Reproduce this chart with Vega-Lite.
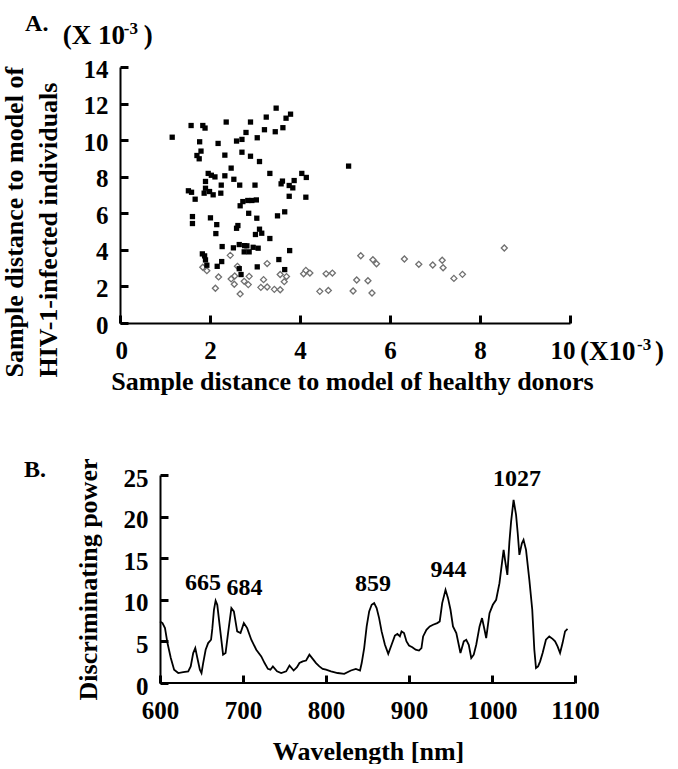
{
  "$schema": "https://vega.github.io/schema/vega-lite/v6.json",
  "autosize": {"type": "pad"},
  "padding": {"left": 0, "top": 12, "right": 0, "bottom": 0},
  "background": "white",
  "bounds": "flush",
  "spacing": 152,
  "config": {
    "font": "Liberation Serif",
    "view": {"stroke": null},
    "axis": {
      "labelFont": "Liberation Serif", "labelFontSize": 25, "labelFontWeight": "bold", "labelColor": "black",
      "titleFont": "Liberation Serif", "titleFontSize": 26, "titleFontWeight": "bold", "titleColor": "black",
      "domainColor": "black", "domainWidth": 2,
      "grid": false, "labelOverlap": false, "labelFlush": false
    },
    "text": {"font": "Liberation Serif", "fontWeight": "bold", "color": "black"}
  },
  "datasets": {
    "scatter": [
      {"group": "healthy", "x": 1.84, "y": 3.05}, {"group": "healthy", "x": 1.93, "y": 2.86}, {"group": "healthy", "x": 2.45, "y": 3.70},
      {"group": "healthy", "x": 2.61, "y": 3.10}, {"group": "healthy", "x": 3.27, "y": 3.25}, {"group": "healthy", "x": 2.19, "y": 2.52},
      {"group": "healthy", "x": 2.47, "y": 2.41}, {"group": "healthy", "x": 2.55, "y": 2.57}, {"group": "healthy", "x": 2.87, "y": 2.55},
      {"group": "healthy", "x": 2.76, "y": 2.28}, {"group": "healthy", "x": 2.85, "y": 2.10}, {"group": "healthy", "x": 2.54, "y": 2.12},
      {"group": "healthy", "x": 2.12, "y": 1.90}, {"group": "healthy", "x": 2.67, "y": 1.59}, {"group": "healthy", "x": 3.19, "y": 2.37},
      {"group": "healthy", "x": 3.56, "y": 2.65}, {"group": "healthy", "x": 3.70, "y": 2.54}, {"group": "healthy", "x": 3.65, "y": 2.26},
      {"group": "healthy", "x": 3.13, "y": 1.95}, {"group": "healthy", "x": 3.27, "y": 1.97}, {"group": "healthy", "x": 3.43, "y": 1.84},
      {"group": "healthy", "x": 3.56, "y": 1.82}, {"group": "healthy", "x": 4.08, "y": 2.69}, {"group": "healthy", "x": 4.13, "y": 2.88},
      {"group": "healthy", "x": 4.22, "y": 2.73}, {"group": "healthy", "x": 4.44, "y": 1.73}, {"group": "healthy", "x": 4.58, "y": 2.69},
      {"group": "healthy", "x": 4.72, "y": 2.73}, {"group": "healthy", "x": 4.63, "y": 1.78}, {"group": "healthy", "x": 5.35, "y": 3.68},
      {"group": "healthy", "x": 5.26, "y": 2.35}, {"group": "healthy", "x": 5.18, "y": 1.75}, {"group": "healthy", "x": 5.62, "y": 3.46},
      {"group": "healthy", "x": 5.70, "y": 3.24}, {"group": "healthy", "x": 5.51, "y": 2.31}, {"group": "healthy", "x": 5.60, "y": 1.64},
      {"group": "healthy", "x": 6.32, "y": 3.50}, {"group": "healthy", "x": 6.64, "y": 3.21}, {"group": "healthy", "x": 6.95, "y": 3.17},
      {"group": "healthy", "x": 7.16, "y": 3.43}, {"group": "healthy", "x": 7.18, "y": 3.02}, {"group": "healthy", "x": 7.42, "y": 2.44},
      {"group": "healthy", "x": 7.61, "y": 2.66}, {"group": "healthy", "x": 8.54, "y": 4.10},
      {"group": "HIV", "x": 1.16, "y": 10.16}, {"group": "HIV", "x": 1.58, "y": 10.80}, {"group": "HIV", "x": 1.84, "y": 10.80},
      {"group": "HIV", "x": 1.89, "y": 10.66}, {"group": "HIV", "x": 2.36, "y": 10.99}, {"group": "HIV", "x": 2.90, "y": 10.99},
      {"group": "HIV", "x": 3.25, "y": 11.26}, {"group": "HIV", "x": 3.47, "y": 11.75}, {"group": "HIV", "x": 3.69, "y": 11.20},
      {"group": "HIV", "x": 3.79, "y": 11.42}, {"group": "HIV", "x": 3.21, "y": 10.57}, {"group": "HIV", "x": 3.45, "y": 10.46},
      {"group": "HIV", "x": 3.62, "y": 10.68}, {"group": "HIV", "x": 2.80, "y": 10.42}, {"group": "HIV", "x": 3.05, "y": 10.13},
      {"group": "HIV", "x": 2.71, "y": 10.04}, {"group": "HIV", "x": 2.59, "y": 9.95}, {"group": "HIV", "x": 2.18, "y": 9.82},
      {"group": "HIV", "x": 1.77, "y": 9.91}, {"group": "HIV", "x": 1.80, "y": 9.40}, {"group": "HIV", "x": 1.71, "y": 9.16},
      {"group": "HIV", "x": 1.76, "y": 8.98}, {"group": "HIV", "x": 2.33, "y": 9.18}, {"group": "HIV", "x": 2.71, "y": 9.34},
      {"group": "HIV", "x": 2.90, "y": 9.12}, {"group": "HIV", "x": 3.10, "y": 8.83}, {"group": "HIV", "x": 5.08, "y": 8.58},
      {"group": "HIV", "x": 2.47, "y": 8.47}, {"group": "HIV", "x": 1.96, "y": 8.18}, {"group": "HIV", "x": 2.03, "y": 8.08},
      {"group": "HIV", "x": 2.11, "y": 7.99}, {"group": "HIV", "x": 2.33, "y": 8.05}, {"group": "HIV", "x": 3.33, "y": 8.18},
      {"group": "HIV", "x": 2.53, "y": 7.86}, {"group": "HIV", "x": 4.04, "y": 8.18}, {"group": "HIV", "x": 4.14, "y": 7.96},
      {"group": "HIV", "x": 3.87, "y": 7.79}, {"group": "HIV", "x": 3.61, "y": 7.76}, {"group": "HIV", "x": 3.58, "y": 7.61},
      {"group": "HIV", "x": 1.90, "y": 7.74}, {"group": "HIV", "x": 2.25, "y": 7.54}, {"group": "HIV", "x": 2.66, "y": 7.54},
      {"group": "HIV", "x": 3.00, "y": 7.54}, {"group": "HIV", "x": 3.76, "y": 7.52}, {"group": "HIV", "x": 3.84, "y": 7.39},
      {"group": "HIV", "x": 1.52, "y": 7.23}, {"group": "HIV", "x": 1.59, "y": 7.15}, {"group": "HIV", "x": 1.90, "y": 7.37},
      {"group": "HIV", "x": 1.87, "y": 7.10}, {"group": "HIV", "x": 1.99, "y": 7.19}, {"group": "HIV", "x": 2.07, "y": 7.01},
      {"group": "HIV", "x": 2.24, "y": 7.10}, {"group": "HIV", "x": 1.67, "y": 6.77}, {"group": "HIV", "x": 3.76, "y": 6.93},
      {"group": "HIV", "x": 4.13, "y": 6.88}, {"group": "HIV", "x": 2.73, "y": 6.64}, {"group": "HIV", "x": 2.84, "y": 6.70},
      {"group": "HIV", "x": 2.93, "y": 6.70}, {"group": "HIV", "x": 3.03, "y": 6.73}, {"group": "HIV", "x": 2.67, "y": 6.41},
      {"group": "HIV", "x": 1.61, "y": 5.82}, {"group": "HIV", "x": 1.61, "y": 5.44}, {"group": "HIV", "x": 2.01, "y": 5.75},
      {"group": "HIV", "x": 2.86, "y": 6.00}, {"group": "HIV", "x": 3.04, "y": 5.73}, {"group": "HIV", "x": 3.50, "y": 5.86},
      {"group": "HIV", "x": 3.66, "y": 6.08}, {"group": "HIV", "x": 2.15, "y": 5.38}, {"group": "HIV", "x": 2.59, "y": 5.18},
      {"group": "HIV", "x": 2.62, "y": 5.33}, {"group": "HIV", "x": 2.13, "y": 4.89}, {"group": "HIV", "x": 3.10, "y": 5.13},
      {"group": "HIV", "x": 3.15, "y": 4.91}, {"group": "HIV", "x": 3.01, "y": 4.84}, {"group": "HIV", "x": 3.33, "y": 4.62},
      {"group": "HIV", "x": 2.27, "y": 4.18}, {"group": "HIV", "x": 2.52, "y": 4.11}, {"group": "HIV", "x": 2.65, "y": 4.29},
      {"group": "HIV", "x": 2.77, "y": 4.23}, {"group": "HIV", "x": 2.82, "y": 4.22}, {"group": "HIV", "x": 2.96, "y": 4.14},
      {"group": "HIV", "x": 3.07, "y": 4.09}, {"group": "HIV", "x": 2.76, "y": 3.89}, {"group": "HIV", "x": 2.87, "y": 3.89},
      {"group": "HIV", "x": 3.77, "y": 3.96}, {"group": "HIV", "x": 1.83, "y": 3.78}, {"group": "HIV", "x": 1.88, "y": 3.67},
      {"group": "HIV", "x": 1.90, "y": 3.45}, {"group": "HIV", "x": 1.93, "y": 3.16}, {"group": "HIV", "x": 2.26, "y": 3.36},
      {"group": "HIV", "x": 2.16, "y": 3.10}, {"group": "HIV", "x": 3.53, "y": 3.47}, {"group": "HIV", "x": 2.65, "y": 2.97},
      {"group": "HIV", "x": 3.05, "y": 3.07}, {"group": "HIV", "x": 3.66, "y": 2.92}, {"group": "HIV", "x": 2.69, "y": 2.65}
    ],
    "spectrum": [
      {"wl": 600, "dp": 7.4}, {"wl": 603, "dp": 7.2}, {"wl": 606, "dp": 6.6}, {"wl": 609, "dp": 4.8}, {"wl": 613, "dp": 3.0},
      {"wl": 617, "dp": 1.6}, {"wl": 622, "dp": 1.2}, {"wl": 628, "dp": 1.3}, {"wl": 634, "dp": 1.4}, {"wl": 637, "dp": 2.0},
      {"wl": 640, "dp": 3.6}, {"wl": 642.5, "dp": 4.2}, {"wl": 645, "dp": 3.0}, {"wl": 648, "dp": 1.6}, {"wl": 650, "dp": 1.2},
      {"wl": 652, "dp": 2.4}, {"wl": 655, "dp": 4.0}, {"wl": 658, "dp": 4.8}, {"wl": 661.5, "dp": 5.2}, {"wl": 663, "dp": 6.5},
      {"wl": 665, "dp": 8.8}, {"wl": 667, "dp": 9.9}, {"wl": 669, "dp": 9.4}, {"wl": 672, "dp": 6.8}, {"wl": 676, "dp": 3.4},
      {"wl": 679, "dp": 3.6}, {"wl": 682, "dp": 6.0}, {"wl": 686, "dp": 9.0}, {"wl": 689, "dp": 8.6}, {"wl": 693, "dp": 6.2},
      {"wl": 697, "dp": 6.0}, {"wl": 701, "dp": 7.2}, {"wl": 705, "dp": 6.6}, {"wl": 710, "dp": 5.2}, {"wl": 716, "dp": 4.0},
      {"wl": 722, "dp": 3.2}, {"wl": 726, "dp": 2.4}, {"wl": 730, "dp": 1.7}, {"wl": 733, "dp": 1.6}, {"wl": 736, "dp": 2.0},
      {"wl": 741, "dp": 1.4}, {"wl": 746, "dp": 1.2}, {"wl": 752, "dp": 1.4}, {"wl": 756, "dp": 2.1}, {"wl": 761, "dp": 1.5},
      {"wl": 765, "dp": 1.9}, {"wl": 768, "dp": 2.4}, {"wl": 772, "dp": 2.6}, {"wl": 776, "dp": 2.7}, {"wl": 780, "dp": 3.4},
      {"wl": 784, "dp": 2.9}, {"wl": 788, "dp": 2.4}, {"wl": 792, "dp": 2.0}, {"wl": 796, "dp": 1.7}, {"wl": 800, "dp": 1.6},
      {"wl": 806, "dp": 1.4}, {"wl": 814, "dp": 1.2}, {"wl": 822, "dp": 1.1}, {"wl": 830, "dp": 1.5}, {"wl": 836, "dp": 1.7},
      {"wl": 841, "dp": 1.5}, {"wl": 843, "dp": 2.4}, {"wl": 846, "dp": 4.2}, {"wl": 849, "dp": 6.8}, {"wl": 852, "dp": 8.6},
      {"wl": 855, "dp": 9.4}, {"wl": 858, "dp": 9.6}, {"wl": 861, "dp": 9.0}, {"wl": 864, "dp": 7.8}, {"wl": 867, "dp": 6.2},
      {"wl": 871, "dp": 4.6}, {"wl": 875, "dp": 3.5}, {"wl": 879, "dp": 4.6}, {"wl": 883, "dp": 5.7}, {"wl": 886, "dp": 5.9},
      {"wl": 889, "dp": 5.6}, {"wl": 891, "dp": 6.2}, {"wl": 894, "dp": 6.0}, {"wl": 897, "dp": 5.0}, {"wl": 900, "dp": 4.5},
      {"wl": 904, "dp": 4.3}, {"wl": 908, "dp": 4.0}, {"wl": 912, "dp": 3.9}, {"wl": 915, "dp": 4.2}, {"wl": 917, "dp": 5.6},
      {"wl": 921, "dp": 6.4}, {"wl": 925, "dp": 6.8}, {"wl": 929, "dp": 7.0}, {"wl": 934, "dp": 7.2}, {"wl": 937, "dp": 7.4},
      {"wl": 940, "dp": 9.6}, {"wl": 944, "dp": 11.2}, {"wl": 947, "dp": 10.2}, {"wl": 950, "dp": 8.8}, {"wl": 953, "dp": 6.8},
      {"wl": 957, "dp": 6.0}, {"wl": 962, "dp": 3.6}, {"wl": 966, "dp": 5.0}, {"wl": 969, "dp": 5.2}, {"wl": 972, "dp": 4.6},
      {"wl": 975, "dp": 3.0}, {"wl": 978, "dp": 3.4}, {"wl": 981, "dp": 4.6}, {"wl": 985, "dp": 6.8}, {"wl": 988, "dp": 7.8},
      {"wl": 991, "dp": 6.4}, {"wl": 993, "dp": 5.4}, {"wl": 997, "dp": 8.4}, {"wl": 1001, "dp": 9.4}, {"wl": 1005, "dp": 10.0},
      {"wl": 1009, "dp": 12.0}, {"wl": 1012, "dp": 14.4}, {"wl": 1014, "dp": 16.0}, {"wl": 1016, "dp": 14.6}, {"wl": 1018.5, "dp": 13.0},
      {"wl": 1021, "dp": 17.0}, {"wl": 1023, "dp": 19.4}, {"wl": 1026, "dp": 22.0}, {"wl": 1029, "dp": 20.2}, {"wl": 1031, "dp": 18.0},
      {"wl": 1033, "dp": 15.4}, {"wl": 1036, "dp": 16.8}, {"wl": 1038, "dp": 17.2}, {"wl": 1041, "dp": 16.0}, {"wl": 1045, "dp": 12.4},
      {"wl": 1048.5, "dp": 8.8}, {"wl": 1051, "dp": 4.0}, {"wl": 1053, "dp": 1.8}, {"wl": 1055.5, "dp": 2.0}, {"wl": 1058, "dp": 2.6},
      {"wl": 1061, "dp": 3.6}, {"wl": 1065, "dp": 5.2}, {"wl": 1069, "dp": 5.6}, {"wl": 1073, "dp": 5.3}, {"wl": 1076, "dp": 5.0},
      {"wl": 1079, "dp": 4.4}, {"wl": 1082, "dp": 3.6}, {"wl": 1085, "dp": 4.8}, {"wl": 1088, "dp": 6.2}, {"wl": 1091, "dp": 6.5}
    ],
    "peaks": [
      {"label": "665", "wl": 651.8, "dp": 11.2},
      {"label": "684", "wl": 701.8, "dp": 10.6},
      {"label": "859", "wl": 856.6, "dp": 11.0},
      {"label": "944", "wl": 947.6, "dp": 12.8},
      {"label": "1027", "wl": 1030.1, "dp": 23.7}
    ]
  },
  "vconcat": [
    {
      "width": 450,
      "height": 256,
      "resolve": {"axis": {"x": "independent", "y": "independent"}},
      "layer": [
        {
          "data": {"name": "scatter"},
          "transform": [{"filter": "datum.group === 'healthy'"}],
          "mark": {"type": "point", "shape": "diamond", "size": 36, "filled": true, "fill": "white", "stroke": "#707070", "strokeWidth": 1.3, "opacity": 1},
          "encoding": {
            "x": {"field": "x", "type": "quantitative", "scale": {"domain": [0, 10], "nice": false, "zero": false},
                  "axis": {"orient": "bottom", "values": [0, 2, 4, 6, 8, 10], "ticks": false, "labelPadding": 15, "labelOverlap": false,
                           "labelFlush": true, "labelFlushOffset": 5,
                           "title": "Sample distance to model of healthy donors",
                           "titleX": 232, "titleY": 66, "titleBaseline": "alphabetic", "titleAlign": "center"}},
            "y": {"field": "y", "type": "quantitative", "scale": {"domain": [0, 14], "nice": false, "zero": false},
                  "axis": {"orient": "left", "values": [0, 2, 4, 6, 8, 10, 12, 14], "ticks": false, "labelPadding": 12, "labelOffset": 2, "labelOverlap": false,
                           "title": ["Sample distance to model of", "HIV-1-infected individuals"],
                           "titleAngle": 270, "titleAlign": "left", "titleBaseline": "middle", "titleX": -106, "titleY": 310, "titleLineHeight": 34}}
          }
        },
        {
          "data": {"name": "scatter"},
          "transform": [{"filter": "datum.group === 'HIV'"}],
          "mark": {"type": "square", "size": 28, "color": "black", "opacity": 1},
          "encoding": {
            "x": {"field": "x", "type": "quantitative", "scale": {"domain": [0, 10], "nice": false, "zero": false},
                  "axis": {"orient": "top", "offset": -256, "values": [0, 2, 4, 6, 8, 10], "labels": false, "domain": false, "grid": false,
                           "ticks": true, "tickSize": 8, "tickWidth": 3, "tickColor": "black", "tickOpacity": 1, "title": null}},
            "y": {"field": "y", "type": "quantitative", "scale": {"domain": [0, 14], "nice": false, "zero": false},
                  "axis": {"orient": "right", "offset": -450, "values": [0, 2, 4, 6, 8, 10, 12, 14], "labels": false, "domain": false, "grid": false,
                           "ticks": true, "tickSize": 8, "tickWidth": 3, "tickColor": "black", "tickOpacity": 1, "title": null}}
          }
        },
        {
          "data": {"values": [{}]},
          "mark": {"type": "text", "text": "A.", "align": "left", "baseline": "alphabetic", "fontSize": 24},
          "encoding": {"x": {"datum": -2.11, "type": "quantitative", "axis": null}, "y": {"datum": 15.96, "type": "quantitative", "axis": null}}
        },
        {
          "data": {"values": [{}]},
          "mark": {"type": "text", "text": "(X 10", "align": "left", "baseline": "alphabetic", "fontSize": 27},
          "encoding": {"x": {"datum": -1.27, "type": "quantitative", "axis": null}, "y": {"datum": 15.25, "type": "quantitative", "axis": null}}
        },
        {
          "data": {"values": [{}]},
          "mark": {"type": "text", "text": "-3", "align": "left", "baseline": "alphabetic", "fontSize": 17, "dx": 61, "dy": -10},
          "encoding": {"x": {"datum": -1.27, "type": "quantitative", "axis": null}, "y": {"datum": 15.25, "type": "quantitative", "axis": null}}
        },
        {
          "data": {"values": [{}]},
          "mark": {"type": "text", "text": ")", "align": "left", "baseline": "alphabetic", "fontSize": 27, "dx": 81},
          "encoding": {"x": {"datum": -1.27, "type": "quantitative", "axis": null}, "y": {"datum": 15.25, "type": "quantitative", "axis": null}}
        },
        {
          "data": {"values": [{}]},
          "mark": {"type": "text", "text": "(X10", "align": "left", "baseline": "alphabetic", "fontSize": 27, "dx": 10, "dy": 37},
          "encoding": {"x": {"datum": 10, "type": "quantitative", "axis": null}, "y": {"datum": 0, "type": "quantitative", "axis": null}}
        },
        {
          "data": {"values": [{}]},
          "mark": {"type": "text", "text": "-3", "align": "left", "baseline": "alphabetic", "fontSize": 17, "dx": 67, "dy": 27},
          "encoding": {"x": {"datum": 10, "type": "quantitative", "axis": null}, "y": {"datum": 0, "type": "quantitative", "axis": null}}
        },
        {
          "data": {"values": [{}]},
          "mark": {"type": "text", "text": ")", "align": "left", "baseline": "alphabetic", "fontSize": 27, "dx": 85, "dy": 37},
          "encoding": {"x": {"datum": 10, "type": "quantitative", "axis": null}, "y": {"datum": 0, "type": "quantitative", "axis": null}}
        }
      ]
    },
    {
      "width": 455,
      "height": 208,
      "resolve": {"axis": {"x": "independent", "y": "independent"}},
      "layer": [
        {
          "data": {"name": "spectrum"},
          "mark": {"type": "line", "color": "black", "strokeWidth": 1.8},
          "encoding": {
            "x": {"field": "wl", "type": "quantitative", "scale": {"domain": [551.8, 1100], "nice": false, "zero": false},
                  "axis": {"orient": "bottom", "values": [600, 700, 800, 900, 1000, 1100], "format": "d", "domain": false, "ticks": false,
                           "labelPadding": 15, "labelOverlap": false, "labelFlush": false,
                           "title": "Wavelength [nm]", "titleX": 248, "titleY": 76, "titleBaseline": "alphabetic", "titleAlign": "center"}},
            "y": {"field": "dp", "type": "quantitative", "scale": {"domain": [0, 25], "nice": false, "zero": false},
                  "axis": {"orient": "left", "values": [0, 5, 10, 15, 20, 25], "offset": -40, "ticks": false, "labelPadding": 12, "labelOffset": 3,
                           "labelOverlap": false,
                           "title": "Discriminating power", "titleAngle": 270, "titleAlign": "center", "titleBaseline": "middle",
                           "titleX": -72, "titleY": 104}}
          }
        },
        {
          "data": {"values": [{}]},
          "mark": {"type": "rule", "color": "black", "strokeWidth": 2},
          "encoding": {
            "x": {"datum": 600, "type": "quantitative", "scale": {"domain": [551.8, 1100], "nice": false, "zero": false},
                  "axis": {"orient": "top", "offset": -208, "values": [600, 700, 800, 900, 1000, 1100], "labels": false, "domain": false, "grid": false,
                           "ticks": true, "tickSize": 8, "tickWidth": 3, "tickColor": "black", "tickOpacity": 1, "title": null}},
            "x2": {"datum": 1100},
            "y": {"datum": 0, "type": "quantitative", "scale": {"domain": [0, 25], "nice": false, "zero": false},
                  "axis": {"orient": "right", "offset": -415, "values": [0, 5, 10, 15, 20, 25], "labels": false, "domain": false, "grid": false,
                           "ticks": true, "tickSize": 8, "tickWidth": 3, "tickColor": "black", "tickOpacity": 1, "title": null}}
          }
        },
        {
          "data": {"name": "peaks"},
          "mark": {"type": "text", "align": "center", "baseline": "alphabetic", "fontSize": 24},
          "encoding": {
            "x": {"field": "wl", "type": "quantitative", "scale": {"domain": [551.8, 1100], "nice": false, "zero": false}, "axis": null},
            "y": {"field": "dp", "type": "quantitative", "scale": {"domain": [0, 25], "nice": false, "zero": false}, "axis": null},
            "text": {"field": "label"}
          }
        },
        {
          "data": {"values": [{}]},
          "mark": {"type": "text", "text": "B.", "align": "left", "baseline": "alphabetic", "fontSize": 24},
          "encoding": {"x": {"datum": 436, "type": "quantitative", "axis": null}, "y": {"datum": 24.8, "type": "quantitative", "axis": null}}
        }
      ]
    }
  ]
}
